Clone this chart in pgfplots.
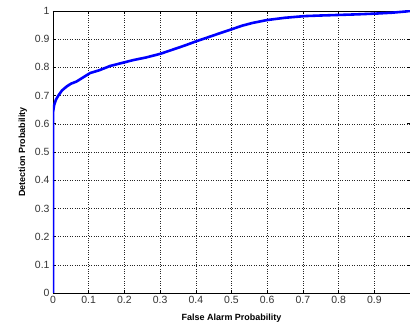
\documentclass[border=0pt]{standalone}
\usepackage{pgfplots}
\pgfplotsset{compat=1.18}
\usepackage{fontspec}
\setmainfont{Liberation Sans}
\begin{document}
\begin{tikzpicture}[x=1bp,y=1bp]
\useasboundingbox (-53bp,-34bp) rectangle (357bp,293bp);
\begin{axis}[
  at={(0,0)}, anchor=south west,
  scale only axis, width=357bp, height=282bp,
  xmin=0, xmax=1, ymin=0, ymax=1,
  xtick={0,0.1,0.2,0.3,0.4,0.5,0.6,0.7,0.8,0.9},
  ytick={0,0.1,0.2,0.3,0.4,0.5,0.6,0.7,0.8,0.9,1},
  xticklabels={0,0.1,0.2,0.3,0.4,0.5,0.6,0.7,0.8,0.9},
  yticklabels={0,0.1,0.2,0.3,0.4,0.5,0.6,0.7,0.8,0.9,1},
  tick align=inside, major tick length=3bp,
  tick style={black, line width=0.6pt},
  grid=major,
  grid style={black!85, dotted, line width=0.5pt},
  axis line style={black, line width=0.7pt},
  ticklabel style={font=\fontsize{10.5}{11}\selectfont, text=black!80},
  xlabel={False Alarm Probability},
  ylabel={Detection Probability},
  label style={font=\fontsize{9}{10}\selectfont\bfseries},
  xlabel style={at={(axis description cs:0.5,0)}, anchor=north, yshift=-17bp},
  ylabel style={yshift=1bp},
]
\addplot[blue, line width=2.6pt, line join=round] coordinates {
(0,0) (0,0.3) (0,0.64) (0.003,0.665) (0.008,0.685) (0.015,0.70) (0.025,0.718)
(0.038,0.732) (0.05,0.742) (0.066,0.75) (0.085,0.765) (0.104,0.78) (0.13,0.79)
(0.16,0.805) (0.2,0.818) (0.225,0.826) (0.26,0.835) (0.3,0.848) (0.34,0.865)
(0.37,0.878) (0.4,0.892) (0.43,0.905) (0.46,0.918) (0.5,0.935) (0.53,0.948)
(0.56,0.958) (0.6,0.968) (0.65,0.976) (0.706,0.982) (0.75,0.984) (0.8,0.986)
(0.85,0.988) (0.907,0.991) (0.95,0.994) (0.986,0.998) (1,1)
};
\end{axis}
\end{tikzpicture}
\end{document}
